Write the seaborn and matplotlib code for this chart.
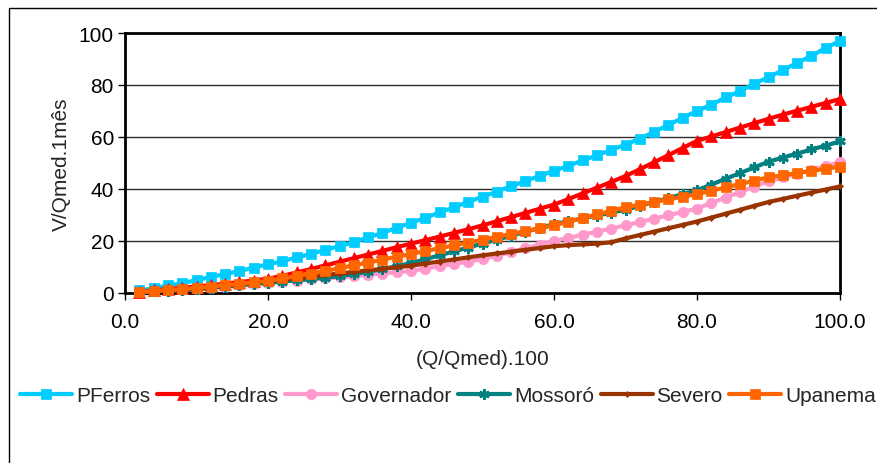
import matplotlib
matplotlib.use("Agg")
import matplotlib.pyplot as plt
from matplotlib.patches import Rectangle
import seaborn as sns
import pandas as pd

# ---- data -------------------------------------------------------------
x_vals = list(range(2, 101, 2))

pferros = [1.0, 1.8, 2.9, 3.7, 5.0, 6.1, 7.3, 8.4, 9.8, 11.0,
           12.2, 13.7, 15.0, 16.6, 18.0, 19.6, 21.4, 23.1, 25.1, 27.0,
           28.9, 31.0, 32.9, 35.1, 37.0, 39.0, 41.1, 43.0, 45.1, 47.0,
           48.9, 51.0, 52.9, 55.1, 57.0, 59.4, 62.0, 64.6, 67.4, 70.0,
           72.4, 75.2, 77.6, 80.5, 83.0, 85.7, 88.5, 91.2, 94.2, 97.0]

pedras = [0.5, 1.0, 1.5, 2.0, 2.5, 3.0, 3.6, 4.2, 4.8, 5.5,
          6.6, 7.9, 9.2, 10.6, 12.0, 13.4, 14.8, 16.2, 17.6, 19.0,
          20.3, 21.7, 23.1, 24.5, 26.0, 27.6, 29.2, 30.8, 32.4, 34.0,
          36.1, 38.3, 40.5, 42.7, 45.0, 47.6, 50.3, 53.0, 55.8, 58.5,
          60.2, 61.9, 63.6, 65.3, 67.0, 68.6, 70.1, 71.6, 73.1, 74.6]

governador = [0.3, 0.6, 0.9, 1.2, 1.5, 2.0, 2.5, 3.0, 3.5, 4.0,
              4.4, 4.8, 5.2, 5.6, 6.0, 6.5, 7.0, 7.5, 8.0, 8.5,
              9.4, 10.3, 11.2, 12.1, 13.0, 14.4, 15.8, 17.2, 18.6, 20.0,
              21.2, 22.4, 23.6, 24.8, 26.0, 27.3, 28.6, 29.9, 31.2, 32.5,
              34.6, 36.7, 38.8, 40.9, 43.0, 44.5, 45.9, 47.4, 48.8, 50.3]

mossoro = [0.3, 0.6, 0.9, 1.2, 1.5, 2.0, 2.5, 3.0, 3.5, 4.0,
           4.4, 4.9, 5.4, 5.9, 6.5, 7.3, 8.2, 9.2, 10.3, 11.5,
           13.0, 14.5, 16.0, 17.5, 19.0, 20.5, 22.0, 23.5, 25.0, 26.5,
           27.6, 28.7, 29.8, 30.9, 32.0, 33.5, 35.0, 36.5, 38.0, 39.5,
           41.7, 43.9, 46.1, 48.3, 50.5, 52.1, 53.6, 55.2, 56.7, 58.3]

severo = [0.3, 0.6, 0.9, 1.2, 1.5, 2.1, 2.7, 3.3, 3.9, 4.5,
          5.1, 5.7, 6.3, 6.9, 7.5, 8.1, 8.7, 9.3, 9.9, 10.5,
          11.3, 12.1, 12.9, 13.7, 14.5, 15.2, 15.9, 16.6, 17.3, 18.0,
          18.4, 18.7, 19.0, 19.5, 21.0, 22.3, 23.6, 24.9, 26.2, 27.5,
          29.0, 30.5, 32.0, 33.5, 35.0, 36.2, 37.4, 38.6, 39.8, 41.0]

upanema = [0.3, 0.7, 1.1, 1.5, 2.0, 2.5, 3.0, 3.5, 4.1, 4.7,
           5.6, 6.5, 7.5, 8.5, 9.5, 10.6, 11.7, 12.8, 13.9, 15.0,
           16.1, 17.2, 18.3, 19.4, 20.5, 21.6, 22.7, 23.8, 24.9, 26.0,
           27.4, 28.8, 30.2, 31.6, 33.0, 34.0, 35.0, 36.0, 37.0, 38.0,
           39.3, 40.6, 41.9, 43.2, 44.5, 45.3, 46.1, 46.9, 47.8, 48.6]

series_names = ["PFerros", "Pedras", "Governador", "Mossoró", "Severo", "Upanema"]
series_values = [pferros, pedras, governador, mossoro, severo, upanema]

x_ticks = [0, 20, 40, 60, 80, 100]
x_tick_labels = ["0.0", "20.0", "40.0", "60.0", "80.0", "100.0"]
y_ticks = [0, 20, 40, 60, 80, 100]
y_tick_labels = ["0", "20", "40", "60", "80", "100"]

# ---- styles -----------------------------------------------------------
colors = ["#00CCFF", "#FF0000", "#FF99CC", "#008080", "#993300", "#FF6600"]
markers = ["s", "^", "o", (6, 2, 0), "D", "s"]
msizes = [7.5, 8.5, 7.5, 7.5, 3.0, 7.5]
medges = [0.5, 0.5, 0.5, 2.0, 0.5, 0.5]

sns.set_theme(style="white")
plt.rcParams["font.family"] = ["Liberation Sans", "DejaVu Sans"]

FS = 15

fig = plt.figure(figsize=(8.77, 4.64), dpi=100)
ax = fig.add_axes([125 / 877, 1 - 294 / 464, (840 - 125) / 877, (294 - 34) / 464])

for name, vals, c, m, ms, mew in zip(series_names, series_values, colors, markers, msizes, medges):
    df = pd.DataFrame({"x": x_vals, "y": vals})
    sns.lineplot(data=df, x="x", y="y", ax=ax, color=c, marker=m, markersize=ms,
                 markeredgecolor=c, markeredgewidth=mew, linewidth=3.0,
                 label=name, clip_on=False, zorder=3)

ax.set_xlim(0, 100)
ax.set_ylim(0, 100)
ax.set_xticks(x_ticks)
ax.set_xticklabels(x_tick_labels)
ax.set_yticks(y_ticks)
ax.set_yticklabels(y_tick_labels)
ax.tick_params(axis="both", which="major", labelsize=FS, colors="black",
               direction="out", length=5, width=1, bottom=True, left=True)
ax.tick_params(axis="x", pad=9)
ax.tick_params(axis="y", pad=3)
ax.set_xlabel("(Q/Qmed).100", fontsize=FS, labelpad=13)
ax.set_ylabel("V/Qmed.1mês", fontsize=FS, labelpad=6)

ax.yaxis.grid(True, color="#303030", linewidth=1.0)
ax.xaxis.grid(False)
ax.set_axisbelow(True)
for sp in ax.spines.values():
    sp.set_visible(True)
    sp.set_color("black")
    sp.set_linewidth(2.0)

handles, labels = ax.get_legend_handles_labels()
ax.get_legend().remove()
fig.legend(handles, labels, loc="center left", bbox_to_anchor=(20 / 877, 1 - 397 / 464),
           ncol=6, frameon=False, fontsize=FS, handlelength=2.5, handletextpad=0.18,
           columnspacing=0.32, borderpad=0, borderaxespad=0)

fig.patches.append(Rectangle((9 / 877, -0.05), 1.1, 1 - 9 / 464 + 0.05,
                             transform=fig.transFigure, fill=False,
                             edgecolor="black", linewidth=1.0))

fig.savefig("out.png", dpi=100)
